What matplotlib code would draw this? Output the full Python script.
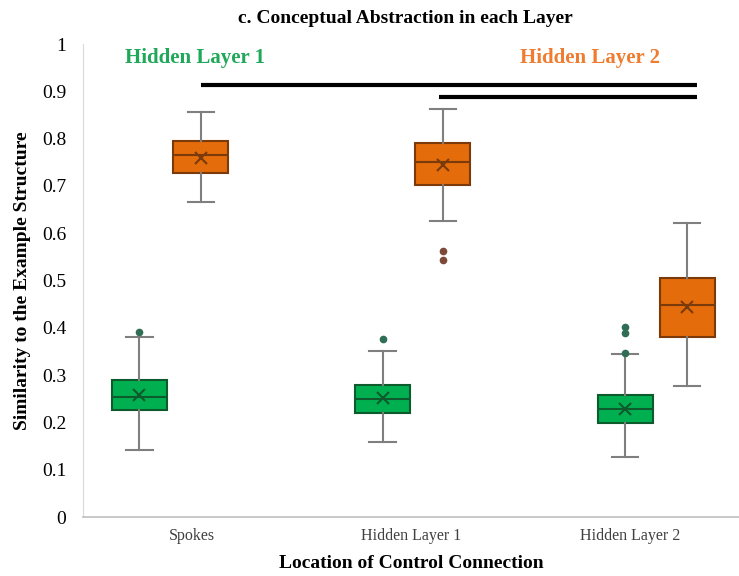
import numpy as np
import matplotlib.pyplot as plt

plt.rcParams['font.family'] = ['Liberation Serif', 'DejaVu Serif']

categories = ['Spokes', 'Hidden Layer 1', 'Hidden Layer 2']
series = ['Hidden Layer 1', 'Hidden Layer 2']

# five-number summaries per control location, one list per series
hl1_whislo = [0.141, 0.158, 0.126]
hl1_q1 = [0.226, 0.220, 0.199]
hl1_med = [0.254, 0.250, 0.228]
hl1_mean = [0.258, 0.251, 0.229]
hl1_q3 = [0.289, 0.280, 0.257]
hl1_whishi = [0.381, 0.352, 0.344]
hl1_fliers = [[0.391], [0.377], [0.347, 0.388, 0.402]]

hl2_whislo = [0.667, 0.626, 0.277]
hl2_q1 = [0.727, 0.702, 0.380]
hl2_med = [0.765, 0.751, 0.448]
hl2_mean = [0.760, 0.744, 0.444]
hl2_q3 = [0.795, 0.791, 0.505]
hl2_whishi = [0.857, 0.862, 0.621]
hl2_fliers = [[], [0.543, 0.562], []]

# significance bars (start, end, height)
sig_bars = [(0.539, 2.81, 0.913), (1.63, 2.81, 0.888)]

green = '#00B050'
green_dark = '#0d5a2c'
orange = '#E46C0A'
orange_dark = '#7a3a0a'

hl1_pos = [0.258, 1.37, 2.479]
hl2_pos = [0.539, 1.646, 2.763]


def make_stats(lo, q1, med, mean, q3, hi, fl):
    return [dict(whislo=a, q1=b, med=c, mean=d, q3=e, whishi=f, fliers=g)
            for a, b, c, d, e, f, g in zip(lo, q1, med, mean, q3, hi, fl)]


fig = plt.figure(figsize=(7.39, 5.76), dpi=100)
ax = fig.add_axes([0.1123, 0.1024, 0.8877, 0.8212])

for stats, pos, fill, dark, fcol in [
    (make_stats(hl1_whislo, hl1_q1, hl1_med, hl1_mean, hl1_q3, hl1_whishi, hl1_fliers),
     hl1_pos, green, green_dark, '#2f6e55'),
    (make_stats(hl2_whislo, hl2_q1, hl2_med, hl2_mean, hl2_q3, hl2_whishi, hl2_fliers),
     hl2_pos, orange, orange_dark, '#7d4a3a'),
]:
    ax.bxp(stats, positions=pos, widths=0.251, patch_artist=True,
           showmeans=True, showfliers=True,
           boxprops=dict(facecolor=fill, edgecolor=dark, linewidth=1.5),
           medianprops=dict(color=dark, linewidth=1.5),
           whiskerprops=dict(color='#7f7f7f', linewidth=1.5),
           capprops=dict(color='#7f7f7f', linewidth=1.5),
           capwidths=0.12,
           meanprops=dict(marker='x', markeredgecolor=dark, markersize=8,
                          markeredgewidth=1.5),
           flierprops=dict(marker='o', markerfacecolor=fcol, markeredgecolor=fcol,
                           markersize=4.5))

for x0, x1, y in sig_bars:
    ax.plot([x0, x1], [y, y], color='black', linewidth=3, solid_capstyle='butt')

ax.text(0.51, 0.970, series[0], color='#1fa85a', fontsize=15, fontweight='bold',
        ha='center', va='center')
ax.text(2.32, 0.970, series[1], color='#ee7d31', fontsize=15, fontweight='bold',
        ha='center', va='center')

ax.set_xlim(0, 3)
ax.set_ylim(0, 1)
ax.set_xticks([0.5, 1.5, 2.5])
ax.set_xticklabels(categories, fontsize=11.5, color='#404040')
ax.set_yticks(np.arange(0, 1.01, 0.1))
ax.set_yticklabels(['0', '0.1', '0.2', '0.3', '0.4', '0.5', '0.6', '0.7', '0.8',
                    '0.9', '1'], fontsize=14)
ax.tick_params(axis='both', length=0)
ax.tick_params(axis='y', pad=12)
ax.tick_params(axis='x', pad=8)

for side in ['top', 'right']:
    ax.spines[side].set_visible(False)
ax.spines['left'].set_color('#d9d9d9')
ax.spines['bottom'].set_color('#bfbfbf')
ax.spines['bottom'].set_linewidth(1.2)

fig.text(0.548, 0.968, 'c. Conceptual Abstraction in each Layer', fontsize=14,
         fontweight='bold', ha='center', va='center')
ax.set_xlabel('Location of Control Connection', fontsize=14, fontweight='bold',
              labelpad=8)
ax.set_ylabel('Similarity to the Example Structure', fontsize=14,
              fontweight='bold', labelpad=8)

fig.savefig('out.png', dpi=100)
